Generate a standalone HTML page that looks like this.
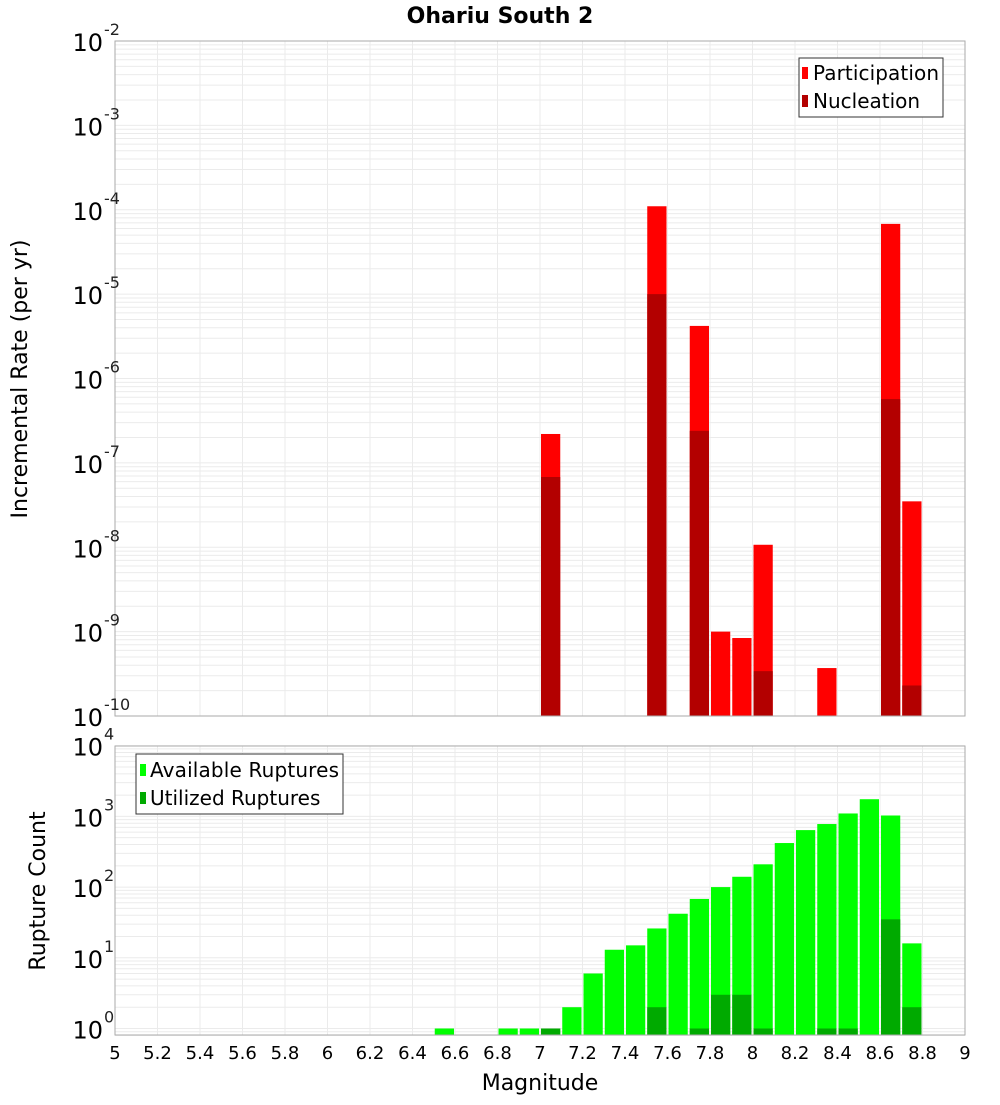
<!DOCTYPE html>
<html><head><meta charset="utf-8"><style>
body{margin:0;background:#fff;}
svg text{font-family:"DejaVu Sans","Liberation Sans",sans-serif;}
</style></head><body>
<svg id="chart" width="1000" height="1100" xmlns="http://www.w3.org/2000/svg">
<rect x="0" y="0" width="1000" height="1100" fill="#fff"/>
<text x="500" y="23" font-size="22" font-weight="bold" text-anchor="middle">Ohariu South 2</text>
<g id="topg"></g><g id="botg"></g>
<text transform="translate(27,379) rotate(-90)" font-size="22" text-anchor="middle">Incremental Rate (per yr)</text>
<text transform="translate(45,891) rotate(-90)" font-size="22" text-anchor="middle">Rupture Count</text>
<text x="540" y="1090" font-size="22" text-anchor="middle">Magnitude</text>
<g>
<rect x="799" y="58" width="144" height="59" fill="#fff" stroke="#333" stroke-width="1"/>
<rect x="802" y="67" width="6" height="12" fill="#ff0000"/>
<text x="813" y="80" font-size="20" textLength="126">Participation</text>
<rect x="802" y="95" width="6" height="12" fill="#b30000"/>
<text x="813" y="108" font-size="20">Nucleation</text>
</g>
<g>
<rect x="136" y="754" width="207" height="60" fill="#fff" stroke="#333" stroke-width="1"/>
<rect x="140" y="764" width="6" height="12" fill="#00ff00"/>
<text x="150" y="777" font-size="20" textLength="189">Available Ruptures</text>
<rect x="140" y="792" width="6" height="12" fill="#00aa00"/>
<text x="150" y="805" font-size="20">Utilized Ruptures</text>
</g>
</svg>
<script>
const mags=[6.55,6.85,6.95,7.05,7.15,7.25,7.35,7.45,7.55,7.65,7.75,7.85,7.95,8.05,8.15,8.25,8.35,8.45,8.55,8.65,8.75];
const available=[1,1,1,1,2,6,13,15,26,42,68,100,140,210,420,640,780,1100,1750,1030,16];
const utilized=[0,0,0,1,0,0,0,0,2,0,1,3,3,1,0,0,1,1,0,35,2];
const rateMags=[7.05,7.55,7.75,7.85,7.95,8.05,8.35,8.65,8.75];
const participation=[2.2e-7,1.1e-4,4.2e-6,1.0e-9,8.4e-10,1.07e-8,3.7e-10,6.8e-5,3.5e-8];
const nucleation=[6.8e-8,1.0e-5,2.4e-7,0,0,3.4e-10,0,5.7e-7,2.3e-10];
const xTicks=[5,5.2,5.4,5.6,5.8,6,6.2,6.4,6.6,6.8,7,7.2,7.4,7.6,7.8,8,8.2,8.4,8.6,8.8,9];
const topExps=[-2,-3,-4,-5,-6,-7,-8,-9,-10];
const botExps=[4,3,2,1,0];
const NS="http://www.w3.org/2000/svg";
const X0=115,X1=965;
const xs=m=>X0+(m-5)/4*(X1-X0);
const T0=41,T1=716,B0=746,B1=1035;
const yTop=v=>T1-(Math.log10(v)+10)*((T1-T0)/8);
const yBot=v=>1028.5-Math.log10(v)*70.7;
function el(parent,tag,attrs){const e=document.createElementNS(NS,tag);for(const k in attrs)e.setAttribute(k,attrs[k]);parent.appendChild(e);return e;}
const gTop=document.getElementById('topg'),gBot=document.getElementById('botg');
function grid(g,y0,y1,yf,emin,emax){
  for(let e=emin;e<=emax;e++){
    for(let k=1;k<10;k++){const v=k*Math.pow(10,e);const y=yf(v);if(y<y0-0.5||y>y1+0.5)continue;
      const l=el(g,'line',{x1:X0,x2:X1,y1:y,y2:y,stroke:'#ebebeb','stroke-width':1});
      
      }
  }
  xTicks.forEach(t=>{const l=el(g,'line',{x1:xs(t),x2:xs(t),y1:y0,y2:y1,stroke:'#ebebeb','stroke-width':1});
    
    });
}
grid(gTop,T0,T1,yTop,-11,-2);
grid(gBot,B0,B1,yBot,-1,4);
function bar(g,m,v,yf,y1,fill,name){
  const x=xs(m-0.05)+1,w=xs(m+0.05)-xs(m-0.05)-2,y=yf(v);
  const r=el(g,'rect',{x:x,y:y,width:w,height:y1-y,fill:fill});
  
  
}
rateMags.forEach((m,i)=>{bar(gTop,m,participation[i],yTop,T1,'#ff0000','participation-bar');
  if(nucleation[i]>0)bar(gTop,m,nucleation[i],yTop,T1,'#b30000','nucleation-bar');});
mags.forEach((m,i)=>{bar(gBot,m,available[i],yBot,B1,'#00ff00','available-bar');
  if(utilized[i]>0)bar(gBot,m,utilized[i],yBot,B1,'#00aa00','utilized-bar');});
[[gTop,T0,T1],[gBot,B0,B1]].forEach(([g,a,b])=>{const r=el(g,'rect',{x:X0,y:a,width:X1-X0,height:b-a,fill:'none',stroke:'#aaaaaa','stroke-width':1});
  
  });
function ylab(g,e,y){
  const t=el(g,'text',{x:103,y:y+10,'font-size':24,'text-anchor':'end'});
  
  
  t.textContent='10';
  const s=el(g,'text',{x:104,y:y-6,'font-size':16,fill:'#222'});
  
  
  s.textContent=String(e);
}
topExps.forEach(e=>ylab(gTop,e,yTop(Math.pow(10,e))));
botExps.forEach(e=>ylab(gBot,e,yBot(Math.pow(10,e))));
xTicks.forEach(t=>{const tx=el(gBot,'text',{x:xs(t),y:1059,'font-size':18,'text-anchor':'middle'});
  
  
  tx.textContent=String(t);});
</script>
</body></html>
